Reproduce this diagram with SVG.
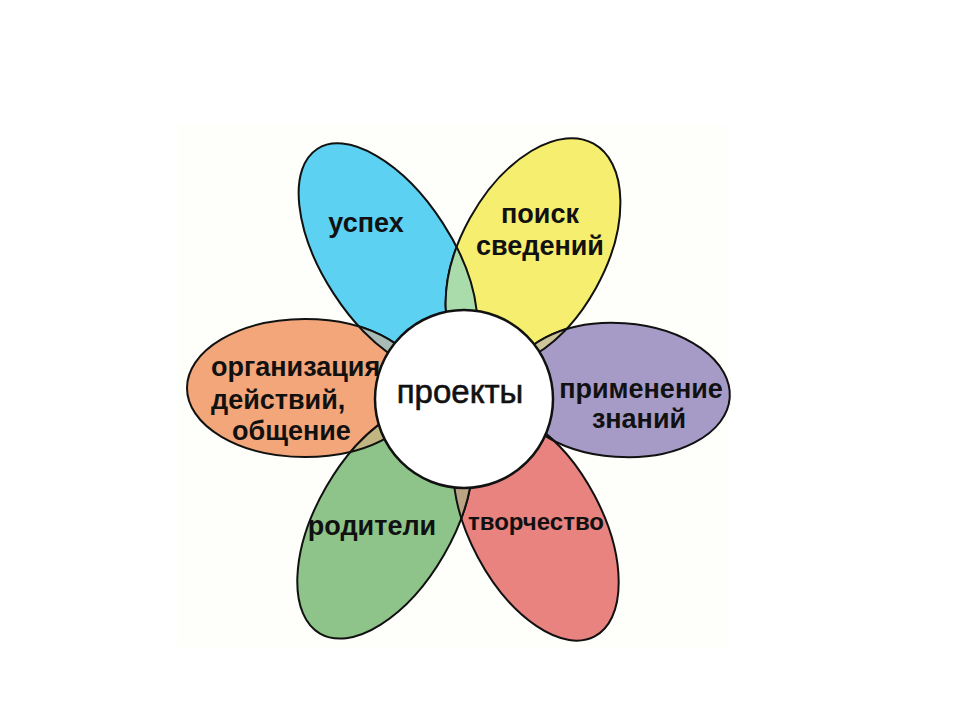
<svg xmlns="http://www.w3.org/2000/svg" xmlns:xlink="http://www.w3.org/1999/xlink" width="960" height="720" viewBox="0 0 960 720">
<style>
.ol{fill:none;stroke:#111;stroke-width:2}
.lb{font-family:"Liberation Sans",Arial,sans-serif;font-weight:bold;font-size:27px;fill:#111;text-anchor:middle}
.lbs{font-family:"Liberation Sans",Arial,sans-serif;font-weight:bold;font-size:27px;fill:#111}
.ct{font-family:"Liberation Sans",Arial,sans-serif;font-size:33px;fill:#111;stroke:#111;stroke-width:0.6;text-anchor:middle}
</style>
<defs>
<ellipse id="pB" cx="388" cy="258" rx="65" ry="130" transform="rotate(-33 388 258)"/>
<ellipse id="pY" cx="533" cy="253" rx="72" ry="125" transform="rotate(29 533 253)"/>
<ellipse id="pO" cx="305" cy="388" rx="118" ry="69"/>
<ellipse id="pP" cx="620" cy="390" rx="110" ry="67" transform="rotate(4 620 390)"/>
<ellipse id="pR" cx="536" cy="526" rx="66" ry="125" transform="rotate(-28 536 526)"/>
<ellipse id="pG" cx="385" cy="521" rx="68" ry="130" transform="rotate(30 385 521)"/>
<clipPath id="cB"><use xlink:href="#pB"/></clipPath>
<clipPath id="cY"><use xlink:href="#pY"/></clipPath>
<clipPath id="cO"><use xlink:href="#pO"/></clipPath>
<clipPath id="cP"><use xlink:href="#pP"/></clipPath>
<clipPath id="cR"><use xlink:href="#pR"/></clipPath>
<clipPath id="cG"><use xlink:href="#pG"/></clipPath>
</defs>
<rect x="0" y="0" width="960" height="720" fill="#ffffff"/>
<rect x="178" y="125" width="550" height="522" fill="#fefefb"/>

<g id="node-uspekh">
<use xlink:href="#pB" fill="#5cd1f1" stroke="#111" stroke-width="2"/>
<text class="lb" x="366" y="232">успех</text>
</g>
<g id="node-poisk">
<use xlink:href="#pY" fill="#f6ee6e" stroke="#111" stroke-width="2"/>
<text class="lb" x="540" y="223">поиск</text>
<text class="lb" x="540" y="255">сведений</text>
</g>
<g id="node-organizatsiya">
<use xlink:href="#pO" fill="#f3a679" stroke="#111" stroke-width="2"/>
<text class="lbs" x="211" y="376">организация</text>
<text class="lbs" x="211" y="409">действий,</text>
<text class="lbs" x="232" y="440">общение</text>
</g>
<g id="node-primenenie">
<use xlink:href="#pP" fill="#a69bc7" stroke="#111" stroke-width="2"/>
<text class="lb" x="641" y="398">применение</text>
<text class="lb" x="639" y="428">знаний</text>
</g>
<g id="node-tvorchestvo">
<use xlink:href="#pR" fill="#e8837f" stroke="#111" stroke-width="2"/>
<text class="lb" x="536" y="530" style="font-size:24px">творчество</text>
</g>
<g id="node-roditeli">
<use xlink:href="#pG" fill="#8ec489" stroke="#111" stroke-width="2"/>
<text class="lb" x="372" y="535">родители</text>
</g>

<g id="overlaps">
<g clip-path="url(#cB)"><use xlink:href="#pY" fill="#a9dbab" stroke="#111" stroke-width="2"/></g>
<g clip-path="url(#cY)"><use xlink:href="#pB" class="ol"/></g>
<g clip-path="url(#cB)"><use xlink:href="#pO" fill="#a8bcb5" stroke="#111" stroke-width="2"/></g>
<g clip-path="url(#cO)"><use xlink:href="#pB" class="ol"/></g>
<g clip-path="url(#cY)"><use xlink:href="#pP" fill="#cec49a" stroke="#111" stroke-width="2"/></g>
<g clip-path="url(#cP)"><use xlink:href="#pY" class="ol"/></g>
<g clip-path="url(#cP)"><use xlink:href="#pR" fill="#c78fa3" stroke="#111" stroke-width="2"/></g>
<g clip-path="url(#cR)"><use xlink:href="#pP" class="ol"/></g>
<g clip-path="url(#cR)"><use xlink:href="#pG" fill="#bba484" stroke="#111" stroke-width="2"/></g>
<g clip-path="url(#cG)"><use xlink:href="#pR" class="ol"/></g>
<g clip-path="url(#cG)"><use xlink:href="#pO" fill="#c1b581" stroke="#111" stroke-width="2"/></g>
<g clip-path="url(#cO)"><use xlink:href="#pG" class="ol"/></g>
</g>

<g id="node-proekty">
<circle cx="464" cy="399" r="89" fill="#ffffff" stroke="#111" stroke-width="2.5"/>
<text class="ct" x="460" y="403">проекты</text>
</g>
</svg>
